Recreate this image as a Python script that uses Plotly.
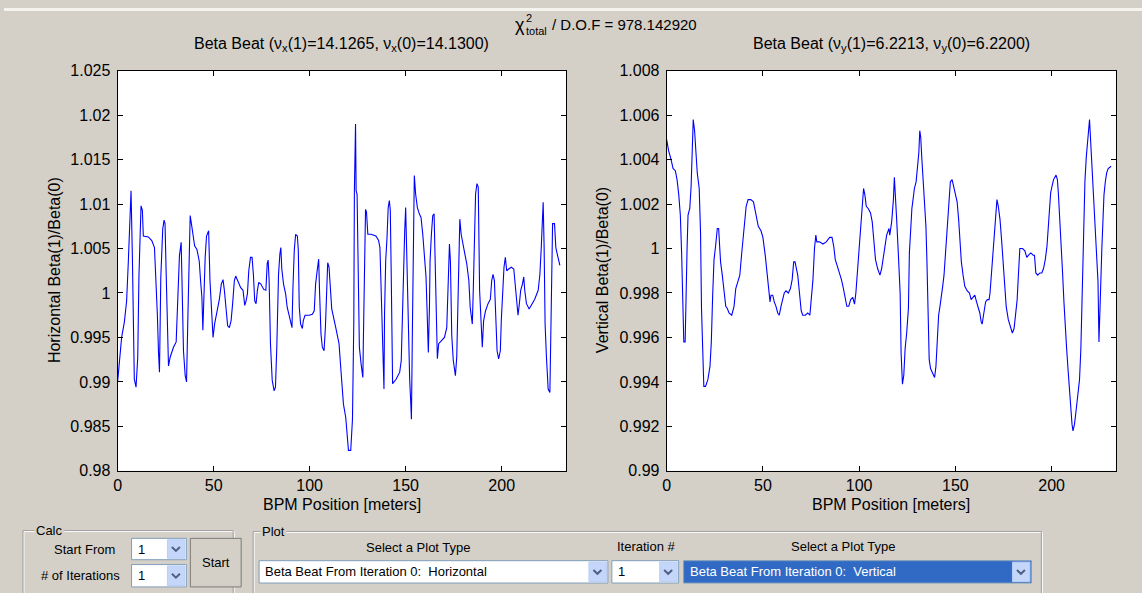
import plotly.graph_objects as go

# ---------------- data ----------------
# Horizontal beta beat: BPM position [m] and Beta(1)/Beta(0)
h_pos = [
    0, 1.2, 2.1, 3.5, 4.7, 5.6, 6.4, 7.0, 7.7, 8.4,
    8.7, 9.6, 10.5, 11.1, 11.8, 12.2, 12.9, 13.4, 16.0, 17.8,
    19.2, 19.9, 20.7, 21.3, 21.8, 22.5, 23.0, 23.5, 24.2, 24.7,
    25.3, 26.0, 26.5, 27.4, 29.1, 30.5, 31.4, 32.2, 33.1, 33.6,
    34.3, 35.2, 35.9, 36.6, 37.3, 37.8, 38.7, 40.1, 41.3, 42.5,
    43.2, 43.9, 44.4, 44.9, 45.6, 46.3, 47.4, 48.1, 48.8, 49.7,
    50.5, 51.7, 53.0, 54.0, 54.9, 55.6, 56.4, 57.3, 58.2, 59.1,
    59.9, 60.8, 61.5, 62.7, 64.1, 65.3, 66.2, 66.9, 67.6, 68.3,
    69.2, 70.0, 70.7, 71.4, 72.1, 72.8, 73.5, 74.6, 76.1, 77.2,
    77.9, 78.4, 78.9, 79.6, 80.5, 81.5, 82.2, 82.9, 83.8, 84.5,
    85.0, 85.5, 86.4, 87.5, 88.3, 89.2, 90.1, 90.8, 91.3, 92.0,
    92.7, 93.6, 94.1, 94.6, 95.3, 96.2, 96.7, 97.6, 99.7, 101.4,
    102.4, 103.1, 103.8, 104.7, 105.2, 105.9, 106.6, 107.5, 108.2, 108.9,
    109.4, 110.1, 110.8, 111.5, 113.6, 115.3, 116.2, 117.6, 118.8, 119.7,
    120.2, 121.4, 122.3, 123.0, 123.3, 123.9, 124.2, 124.7, 125.4, 125.9,
    126.8, 127.7, 128.0, 128.6, 129.1, 129.6, 130.3, 131.9, 134.5, 135.9,
    136.6, 137.1, 137.6, 138.2, 138.7, 139.0, 139.6, 140.3, 140.9, 141.5,
    142.0, 142.5, 142.9, 143.2, 145.0, 146.9, 147.7, 148.2, 148.9, 149.5,
    150.0, 150.5, 151.0, 151.6, 152.1, 152.6, 153.0, 153.5, 154.0, 154.5,
    155.2, 156.1, 157.1, 158.0, 158.9, 159.8, 160.6, 161.1, 161.5, 161.8,
    162.4, 162.7, 163.4, 164.1, 164.8, 165.3, 166.0, 166.5, 167.2, 168.4,
    170.2, 171.4, 171.9, 172.8, 173.3, 174.0, 174.8, 175.9, 176.6, 177.1,
    177.6, 178.2, 178.9, 179.7, 180.8, 181.8, 182.9, 183.6, 184.7, 185.2,
    185.9, 186.4, 187.1, 187.8, 188.5, 189.2, 189.9, 190.6, 191.6, 192.9,
    194.1, 194.8, 195.5, 196.2, 196.9, 197.6, 198.4, 199.3, 199.8, 200.5,
    201.2, 201.9, 202.6, 203.6, 205.0, 206.3, 207.1, 207.8, 208.5, 209.2,
    209.9, 210.8, 211.5, 212.0, 212.9, 214.3, 215.5, 217.2, 219.0, 219.9,
    220.6, 221.3, 221.6, 222.1, 222.6, 223.3, 224.2, 225.1, 225.6, 226.1,
    226.5, 227.5, 228.2, 228.9, 229.9, 230.3,
]
h_beat = [
    0.9900, 0.9926, 0.9950, 0.9967, 0.9991, 1.0036, 1.0089, 1.0115, 1.0040, 0.9958,
    0.9903, 0.9894, 0.9928, 1.0018, 1.0066, 1.0098, 1.0093, 1.0064, 1.0063, 1.0059,
    1.0051, 1.0021, 0.9976, 0.9933, 0.9911, 1.0018, 1.0040, 1.0072, 1.0082, 1.0078,
    1.0021, 0.9954, 0.9918, 0.9928, 0.9939, 0.9945, 0.9988, 1.0042, 1.0057, 1.0003,
    0.9935, 0.9907, 0.9900, 0.9973, 1.0048, 1.0087, 1.0074, 1.0053, 1.0049, 1.0036,
    1.0014, 0.9995, 0.9958, 1.0003, 1.0040, 1.0064, 1.0070, 1.0014, 0.9988, 0.9950,
    0.9965, 0.9978, 0.9993, 1.0010, 1.0015, 1.0003, 0.9984, 0.9963, 0.9961, 0.9969,
    0.9988, 1.0014, 1.0019, 1.0012, 1.0006, 1.0003, 0.9986, 0.9991, 0.9999, 1.0025,
    1.0040, 1.0040, 1.0021, 0.9991, 0.9988, 1.0003, 1.0012, 1.0010, 1.0004, 1.0003,
    1.0033, 1.0037, 1.0014, 0.9943, 0.9902, 0.9890, 0.9894, 0.9939, 1.0021, 1.0044,
    1.0051, 1.0027, 1.0010, 0.9999, 0.9984, 0.9976, 0.9965, 0.9961, 1.0006, 1.0048,
    1.0066, 1.0064, 1.0048, 0.9984, 0.9965, 0.9960, 0.9969, 0.9975, 0.9975, 0.9976,
    0.9980, 1.0010, 1.0023, 1.0038, 0.9999, 0.9954, 0.9939, 0.9935, 0.9961, 0.9999,
    1.0034, 1.0029, 1.0006, 0.9982, 0.9961, 0.9943, 0.9916, 0.9875, 0.9860, 0.9838,
    0.9823, 0.9823, 0.9858, 0.9969, 1.0115, 1.0190, 1.0115, 1.0111, 1.0021, 0.9939,
    0.9920, 0.9905, 0.9950, 1.0033, 1.0094, 1.0091, 1.0066, 1.0066, 1.0064, 1.0059,
    1.0051, 1.0014, 0.9965, 0.9916, 0.9892, 0.9976, 1.0036, 1.0063, 1.0096, 1.0104,
    1.0093, 1.0018, 0.9939, 0.9898, 0.9903, 0.9911, 0.9924, 0.9973, 1.0021, 1.0070,
    1.0096, 1.0044, 0.9984, 0.9928, 0.9902, 0.9879, 0.9858, 0.9958, 1.0074, 1.0132,
    1.0111, 1.0096, 1.0089, 1.0085, 1.0066, 1.0044, 1.0018, 0.9984, 0.9961, 0.9933,
    0.9986, 1.0036, 1.0066, 1.0087, 1.0089, 1.0036, 0.9991, 0.9926, 0.9943, 0.9946,
    0.9950, 0.9961, 0.9995, 1.0055, 1.0036, 0.9952, 0.9924, 0.9907, 0.9928, 0.9973,
    1.0048, 1.0083, 1.0066, 1.0055, 1.0044, 1.0033, 1.0014, 0.9984, 0.9965, 1.0003,
    1.0081, 1.0111, 1.0123, 1.0119, 1.0003, 0.9965, 0.9939, 0.9969, 0.9980, 0.9988,
    0.9993, 1.0014, 1.0021, 1.0014, 0.9965, 0.9935, 0.9926, 0.9935, 0.9969, 1.0006,
    1.0029, 1.0040, 1.0025, 1.0027, 1.0029, 1.0027, 1.0010, 0.9991, 0.9975, 0.9988,
    1.0003, 1.0010, 1.0018, 1.0003, 0.9988, 0.9982, 0.9986, 0.9993, 1.0003, 1.0021,
    1.0051, 1.0081, 1.0102, 1.0051, 0.9965, 0.9928, 0.9892, 0.9888, 0.9958, 1.0036,
    1.0078, 1.0078, 1.0051, 1.0044, 1.0033, 1.0031,
]

# Vertical beta beat
v_pos = [
    0, 1.0, 2.3, 3.3, 4.5, 5.4, 6.3, 7.1, 7.8, 8.4,
    8.9, 9.6, 10.1, 10.6, 11.1, 12.0, 12.7, 13.2, 13.8, 14.5,
    15.0, 15.9, 16.9, 17.6, 18.1, 18.8, 19.3, 20.2, 21.4, 22.5,
    23.2, 23.9, 24.6, 25.4, 26.3, 27.0, 27.4, 28.0, 28.9, 29.8,
    30.7, 31.5, 32.4, 33.8, 35.0, 35.9, 36.8, 38.0, 39.0, 39.9,
    40.6, 41.3, 42.3, 43.7, 45.1, 46.3, 47.6, 49.0, 50.0, 51.2,
    52.1, 52.8, 53.7, 54.2, 55.1, 55.9, 56.8, 57.7, 58.5, 59.4,
    60.3, 61.1, 62.0, 63.2, 64.3, 65.2, 66.0, 66.7, 67.4, 68.1,
    69.0, 69.9, 70.7, 72.0, 73.3, 74.4, 75.1, 76.0, 76.8, 77.5,
    78.0, 79.4, 81.2, 82.9, 84.7, 85.9, 86.8, 87.6, 88.7, 89.9,
    90.8, 91.6, 92.5, 93.6, 94.6, 95.6, 96.7, 97.6, 98.3, 99.1,
    100.0, 100.9, 101.7, 102.3, 103.0, 103.7, 104.7, 105.9, 106.8, 107.7,
    108.5, 109.6, 110.8, 111.7, 113.1, 114.3, 115.5, 115.9, 116.9, 117.8,
    118.3, 118.8, 119.5, 120.4, 121.3, 121.8, 122.5, 123.2, 123.9, 124.7,
    125.6, 126.1, 126.8, 127.4, 128.0, 128.7, 129.6, 130.3, 131.0, 131.5,
    132.0, 132.6, 133.3, 134.0, 134.7, 135.2, 135.7, 136.4, 137.1, 138.2,
    139.2, 139.9, 140.6, 141.3, 142.0, 142.7, 143.4, 144.1, 144.8, 145.7,
    146.5, 147.4, 148.3, 149.1, 150.0, 150.9, 151.7, 152.3, 153.1, 154.0,
    154.9, 156.1, 157.3, 158.2, 159.1, 160.1, 161.0, 161.8, 162.7, 163.4,
    163.9, 164.8, 165.7, 166.6, 167.5, 168.0, 168.7, 169.2, 170.0, 170.9,
    171.6, 172.3, 173.2, 174.0, 174.9, 175.6, 176.4, 177.5, 178.6, 179.6,
    180.5, 181.4, 182.1, 182.8, 183.5, 184.0, 184.9, 186.1, 187.1, 188.0,
    189.2, 190.4, 191.1, 191.8, 192.8, 193.9, 194.9, 195.8, 196.7, 197.6,
    198.3, 198.8, 199.5, 200.2, 201.0, 202.3, 203.0, 203.5, 204.4, 205.0,
    205.7, 206.4, 207.1, 207.8, 208.5, 209.2, 209.9, 210.6, 211.1, 211.9,
    212.7, 213.6, 214.5, 215.2, 215.7, 216.2, 216.7, 217.3, 218.0, 218.7,
    219.2, 219.7, 220.3, 220.8, 221.5, 222.2, 222.9, 223.6, 224.1, 224.6,
    225.1, 225.6, 226.1, 226.7, 227.2, 227.9, 228.6, 229.4, 230.4, 230.9,
]
v_beat = [
    1.0049, 1.0044, 1.0040, 1.0036, 1.0035, 1.0031, 1.0024, 1.0015, 0.9997, 0.9977,
    0.9958, 0.9958, 0.9986, 1.0000, 1.0015, 1.0018, 1.0028, 1.0040, 1.0058, 1.0053,
    1.0047, 1.0034, 1.0027, 1.0007, 0.9973, 0.9953, 0.9938, 0.9938, 0.9941, 0.9947,
    0.9958, 0.9979, 0.9995, 1.0001, 1.0009, 1.0009, 1.0001, 0.9994, 0.9988, 0.9980,
    0.9974, 0.9973, 0.9971, 0.9970, 0.9974, 0.9982, 0.9985, 0.9988, 0.9998, 1.0006,
    1.0015, 1.0019, 1.0022, 1.0022, 1.0021, 1.0015, 1.0010, 1.0008, 1.0005, 0.9997,
    0.9989, 0.9983, 0.9976, 0.9979, 0.9979, 0.9976, 0.9974, 0.9971, 0.9970, 0.9974,
    0.9977, 0.9980, 0.9981, 0.9980, 0.9982, 0.9986, 0.9994, 0.9994, 0.9991, 0.9988,
    0.9980, 0.9972, 0.9970, 0.9970, 0.9971, 0.9970, 0.9977, 0.9986, 1.0000, 1.0006,
    1.0003, 1.0003, 1.0002, 1.0003, 1.0005, 1.0005, 1.0001, 0.9995, 0.9992, 0.9989,
    0.9986, 0.9983, 0.9979, 0.9974, 0.9974, 0.9977, 0.9978, 0.9975, 0.9980, 0.9989,
    1.0001, 1.0013, 1.0022, 1.0027, 1.0024, 1.0019, 1.0018, 1.0016, 1.0012, 1.0001,
    0.9995, 0.9991, 0.9988, 0.9991, 1.0000, 1.0006, 1.0009, 1.0006, 1.0012, 1.0022,
    1.0032, 1.0025, 1.0013, 0.9997, 0.9980, 0.9953, 0.9939, 0.9943, 0.9955, 0.9962,
    0.9973, 0.9998, 1.0010, 1.0018, 1.0022, 1.0027, 1.0030, 1.0037, 1.0043, 1.0053,
    1.0050, 1.0040, 1.0030, 1.0021, 1.0010, 0.9995, 0.9968, 0.9950, 0.9946, 0.9944,
    0.9942, 0.9947, 0.9959, 0.9970, 0.9974, 0.9980, 0.9983, 0.9988, 0.9997, 1.0007,
    1.0021, 1.0030, 1.0031, 1.0028, 1.0025, 1.0021, 1.0013, 1.0004, 0.9994, 0.9988,
    0.9983, 0.9981, 0.9980, 0.9977, 0.9978, 0.9979, 0.9976, 0.9974, 0.9971, 0.9967,
    0.9966, 0.9971, 0.9976, 0.9977, 0.9977, 0.9980, 0.9988, 0.9998, 1.0007, 1.0013,
    1.0022, 1.0019, 1.0013, 1.0004, 0.9994, 0.9983, 0.9974, 0.9968, 0.9965, 0.9962,
    0.9964, 0.9970, 0.9977, 0.9989, 1.0000, 1.0000, 1.0000, 0.9999, 0.9996, 0.9997,
    0.9998, 0.9997, 0.9997, 0.9989, 0.9988, 0.9989, 0.9989, 0.9991, 0.9995, 1.0001,
    1.0010, 1.0019, 1.0025, 1.0028, 1.0031, 1.0033, 1.0031, 1.0025, 1.0012, 1.0001,
    0.9989, 0.9976, 0.9962, 0.9955, 0.9946, 0.9937, 0.9930, 0.9921, 0.9918, 0.9921,
    0.9927, 0.9934, 0.9941, 0.9955, 0.9974, 0.9991, 1.0013, 1.0030, 1.0041, 1.0049,
    1.0052, 1.0058, 1.0048, 1.0039, 1.0025, 1.0016, 1.0001, 0.9989, 0.9985, 0.9958,
    0.9977, 0.9986, 1.0000, 1.0013, 1.0024, 1.0030, 1.0034, 1.0036, 1.0037, 1.0037,
]
assert len(h_pos) == len(h_beat) and len(v_pos) == len(v_beat)

x_ticks = [0, 50, 100, 150, 200]
h_ticks = [0.98, 0.985, 0.99, 0.995, 1.0, 1.005, 1.01, 1.015, 1.02, 1.025]
h_tick_text = ["0.98", "0.985", "0.99", "0.995", "1", "1.005", "1.01", "1.015", "1.02", "1.025"]
v_ticks = [0.99, 0.992, 0.994, 0.996, 0.998, 1.0, 1.002, 1.004, 1.006, 1.008]
v_tick_text = ["0.99", "0.992", "0.994", "0.996", "0.998", "1", "1.002", "1.004", "1.006", "1.008"]

h_title = "Beta Beat (\u03bd<sub>x</sub>(1)=14.1265, \u03bd<sub>x</sub>(0)=14.1300)"
v_title = "Beta Beat (\u03bd<sub>y</sub>(1)=6.2213, \u03bd<sub>y</sub>(0)=6.2200)"
chi_value = "978.142920"

# ---------------- layout helpers ----------------
W, H = 1142, 593
BG = "#d4d0c8"
FONT = "Liberation Sans, Arial, sans-serif"


def px(x):
    return x / W


def py(y):
    return 1 - y / H


fig = go.Figure()
fig.add_trace(go.Scatter(x=h_pos, y=h_beat, mode="lines",
                         line=dict(color="#0000ff", width=1.1),
                         xaxis="x", yaxis="y", showlegend=False))
fig.add_trace(go.Scatter(x=v_pos, y=v_beat, mode="lines",
                         line=dict(color="#0000ff", width=1.1),
                         xaxis="x2", yaxis="y2", showlegend=False))

axis_common = dict(showgrid=False, zeroline=False, showline=True, linecolor="black",
                   linewidth=1, ticks="inside", ticklen=5, tickcolor="black",
                   mirror="ticks", tickfont=dict(family=FONT, size=16, color="black"))

ydom = [py(476.5), py(64.5)]
fig.update_layout(
    width=W, height=H,
    margin=dict(l=0, r=0, t=0, b=0),
    paper_bgcolor=BG, plot_bgcolor="white",
    font=dict(family=FONT, size=16, color="black"),
    xaxis=dict(domain=[px(114), px(564)], range=[0, 233.5], tickvals=x_ticks,
               anchor="y", **axis_common),
    yaxis=dict(domain=ydom, range=[0.98, 1.025], tickvals=h_ticks, ticktext=h_tick_text,
               anchor="x", ticklabelstandoff=3, **axis_common),
    xaxis2=dict(domain=[px(665), px(1116)], range=[0, 233.5], tickvals=x_ticks,
                anchor="y2", **axis_common),
    yaxis2=dict(domain=ydom, range=[0.99, 1.008], tickvals=v_ticks, ticktext=v_tick_text,
                anchor="x2", ticklabelstandoff=3, **axis_common),
)

ann = []


def text(x, y, s, size=16, xanchor="center", color="black", angle=0, bg=None):
    d = dict(x=px(x), y=py(y), xref="paper", yref="paper", text=s, showarrow=False,
             xanchor=xanchor, yanchor="middle", textangle=angle,
             font=dict(family=FONT, size=size, color=color))
    if bg:
        d["bgcolor"] = bg
    ann.append(d)


# titles and axis labels
text(339, 38, h_title)
text(890.5, 38, v_title)
text(511, 18, "\u03c7", size=18, xanchor="left")
text(522, 10, "2", size=11, xanchor="left")
text(522, 24, "total", size=11, xanchor="left")
text(548, 17, "/ D.O.F = " + chi_value, size=15, xanchor="left")
text(339, 511, "BPM Position [meters]")
text(890.5, 511, "BPM Position [meters]")
text(50, 270, "Horizontal Beta(1)/Beta(0)", angle=-90)
text(600, 270, "Vertical Beta(1)/Beta(0)", angle=-90)

shapes = []


def rect(x0, y0, x1, y1, line="#808080", fill=None, lw=1):
    shapes.append(dict(type="rect", xref="paper", yref="paper",
                       x0=px(x0), y0=py(y1), x1=px(x1), y1=py(y0),
                       line=dict(color=line, width=lw), fillcolor=fill, layer="above"))


def chevron(cx, cy, color="#4d6185"):
    p = "M {:.5f} {:.5f} L {:.5f} {:.5f} L {:.5f} {:.5f}".format(
        px(cx - 4), py(cy - 2), px(cx), py(cy + 2), px(cx + 4), py(cy - 2))
    shapes.append(dict(type="path", xref="paper", yref="paper", path=p,
                       line=dict(color=color, width=2), layer="above"))


def combo(x0, y0, x1, y1, label, fill="white", tcolor="black", btn=19):
    rect(x0, y0, x1, y1, line="#7f9db9", fill=fill)
    rect(x1 - btn, y0 + 1.5, x1 - 1.5, y1 - 1.5, line="#b9cdf5", fill="#c4d6fa")
    chevron(x1 - 1 - btn / 2, (y0 + y1) / 2)
    text(x0 + 4, (y0 + y1) / 2, label, size=13, xanchor="left", color=tcolor)


# thin light strip at the top edge of the window
shapes.append(dict(type="rect", xref="paper", yref="paper", x0=0, x1=1,
                   y0=py(3), y1=1, line=dict(width=0), fillcolor="#f4f3ee", layer="below"))

# group frames (etched)
rect(20, 539, 231, 605, line="white")
rect(19, 538, 230, 604, line="#a0a0a0")
rect(251, 540, 1042, 606, line="white")
rect(250, 539, 1041, 605, line="#a0a0a0")
text(46, 538, "Calc", size=13, bg=BG)
text(270, 539, "Plot", size=13, bg=BG)

# Calc panel
text(81, 557, "Start From", size=13)
text(77, 584, "# of Iterations", size=13)
combo(128, 546, 183, 568, "1")
combo(128, 573, 183, 596, "1")
rect(187, 546, 238, 596, line="#7a7a7a", fill=BG)
text(212.5, 571, "Start", size=13)

# Plot panel
text(416, 555, "Select a Plot Type", size=13)
combo(256, 569, 606, 592, "Beta Beat From Iteration 0:  Horizontal")
text(645, 554, "Iteration #", size=13)
combo(610, 569, 677, 592, "1")
text(842, 554, "Select a Plot Type", size=13)
combo(682, 569, 1031, 592, "Beta Beat From Iteration 0:  Vertical",
      fill="#316ac5", tcolor="white")

fig.update_layout(annotations=ann, shapes=shapes)
fig.write_html("out.html")
